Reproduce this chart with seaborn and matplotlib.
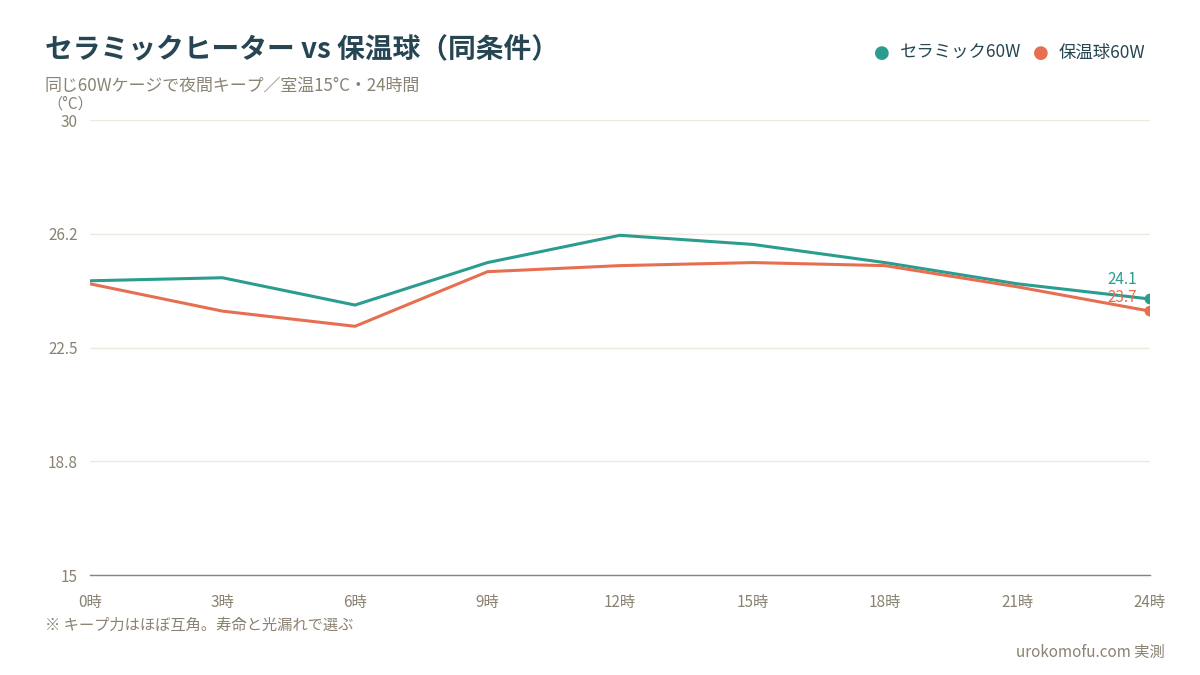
import pandas as pd
import matplotlib.pyplot as plt
import seaborn as sns

# データ
hours = [0, 3, 6, 9, 12, 15, 18, 21, 24]
hour_labels = ['0時', '3時', '6時', '9時', '12時', '15時', '18時', '21時', '24時']
ceramic = [24.7, 24.8, 23.9, 25.3, 26.2, 25.9, 25.3, 24.6, 24.1]
bulb = [24.6, 23.7, 23.2, 25.0, 25.2, 25.3, 25.2, 24.5, 23.7]
series_names = ['セラミック60W', '保温球60W']
y_ticks = [15, 18.75, 22.5, 26.25, 30]
y_tick_labels = ['15', '18.8', '22.5', '26.2', '30']

colors = {'セラミック60W': '#2a9d8f', '保温球60W': '#e76f51'}
TITLE_C = '#264653'
GRAY = '#8a8272'

df = pd.DataFrame({
    '時刻': hours * 2,
    '温度': ceramic + bulb,
    '種類': [series_names[0]] * len(hours) + [series_names[1]] * len(hours),
})

sns.set_theme(style='white')
plt.rcParams['font.family'] = ['Noto Sans CJK JP', 'DejaVu Sans']

fig = plt.figure(figsize=(12, 6.75), dpi=100)
ax = fig.add_axes([0.075, 0.1481, 0.8833, 0.6741])

sns.lineplot(data=df, x='時刻', y='温度', hue='種類', palette=colors,
             linewidth=2.2, ax=ax, legend=False)

# 終点マーカーとラベル
ends = [(ceramic[-1], series_names[0], 19), (bulb[-1], series_names[1], 14)]
for val, name, dy in ends:
    ax.scatter([hours[-1]], [val], s=60, color=colors[name], zorder=5, edgecolor='none')
    ax.annotate(f'{val:.1f}', (hours[-1], val), textcoords='offset pixels',
                xytext=(-13, dy), ha='right', va='center', fontsize=11,
                color=colors[name])

ax.set_xlim(0, 24)
ax.set_ylim(15, 30)
ax.set_xticks(hours)
ax.set_xticklabels(hour_labels)
ax.set_yticks(y_ticks)
ax.set_yticklabels(y_tick_labels)
ax.set_xlabel('')
ax.set_ylabel('')
ax.tick_params(axis='both', colors=GRAY, labelsize=11, length=0)
ax.tick_params(axis='y', pad=9)
ax.tick_params(axis='x', pad=14)
ax.grid(True, axis='y', color='#efe9df', linewidth=1)
ax.grid(False, axis='x')
for side in ['top', 'right', 'left']:
    ax.spines[side].set_visible(False)
ax.spines['bottom'].set_color('#8a8272')
ax.spines['bottom'].set_linewidth(1)

# タイトル類
fig.text(45 / 1200, 1 - 50 / 675, 'セラミックヒーター vs 保温球（同条件）', fontsize=20,
         fontweight='bold', color=TITLE_C, va='center', ha='left')
fig.text(45 / 1200, 1 - 87 / 675, '同じ60Wケージで夜間キープ／室温15°C・24時間', fontsize=12.2,
         color=GRAY, va='center', ha='left')
fig.text(47 / 1200, 1 - 104 / 675, '（°C）', fontsize=11, color=GRAY, va='center', ha='left')

# 凡例
lx = [882, 1041]
for x0, name in zip(lx, series_names):
    fig.text(x0 / 1200, 1 - 53 / 675, '●', fontsize=13, color=colors[name],
             ha='center', va='center', family=['DejaVu Sans'])
    fig.text((x0 + 18) / 1200, 1 - 53 / 675, name, fontsize=12.5, color=TITLE_C,
             ha='left', va='center')

fig.text(45 / 1200, 1 - 625 / 675, '※ キープ力はほぼ互角。寿命と光漏れで選ぶ', fontsize=11,
         color=GRAY, ha='left', va='center')
fig.text(1165 / 1200, 1 - 652 / 675, 'urokomofu.com 実測', fontsize=11,
         color=GRAY, ha='right', va='center')

fig.savefig('out.png', dpi=100)
